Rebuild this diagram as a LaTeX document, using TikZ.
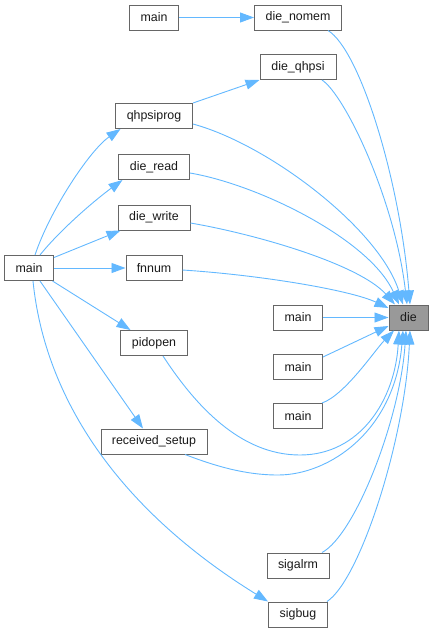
\documentclass[tikz,border=0pt]{standalone}
\usepackage{fontspec}
\setmainfont{Liberation Sans}
\usetikzlibrary{arrows.meta}
\definecolor{edgeblue}{HTML}{63B8FF}
\definecolor{boxline}{HTML}{666666}
\definecolor{diefill}{HTML}{999999}
\definecolor{txt}{HTML}{1A1A1A}
\begin{document}
\begin{tikzpicture}[x=1pt,y=-1pt,
  fn/.style={draw=boxline, line width=1pt, fill=white, minimum height=25pt,
    inner sep=0pt, font=\fontsize{12.4}{14}\selectfont, text=txt},
  edge/.style={draw=edgeblue, line width=0.9pt,
    -{Triangle[length=14pt,width=10pt,fill=edgeblue]}}]
\useasboundingbox (0,0) rectangle (433,633);

% nodes
\node[fn, minimum width=49pt] (maintop) at (154,17.5) {main};
\node[fn, minimum width=87pt] (dienomem) at (298,17.5) {die\_nomem};
\node[fn, minimum width=76pt] (dieqhpsi) at (298,67) {die\_qhpsi};
\node[fn, minimum width=77pt] (qhpsiprog) at (154,116) {qhpsiprog};
\node[fn, minimum width=71pt] (dieread) at (154,167) {die\_read};
\node[fn, minimum width=72pt] (diewrite) at (154,217.5) {die\_write};
\node[fn, minimum width=49pt] (mainL) at (29,268) {main};
\node[fn, minimum width=56pt] (fnnum) at (154,268) {fnnum};
\node[fn, minimum width=49pt] (mainA) at (298,317.5) {main};
\node[fn, minimum width=39pt, fill=diefill] (die) at (408.5,317.5) {die};
\node[fn, minimum width=67pt] (pidopen) at (154,343) {pidopen};
\node[fn, minimum width=49pt] (mainB) at (298,367) {main};
\node[fn, minimum width=49pt] (mainC) at (298,416) {main};
\node[fn, minimum width=106pt] (rsetup) at (154,441.5) {received\_setup};
\node[fn, minimum width=62pt] (sigalrm) at (298,565.5) {sigalrm};
\node[fn, minimum width=59pt] (sigbug) at (298,614.5) {sigbug};

% edges into die (top)
\draw[edge] ([xshift=30pt]dienomem.south) .. controls (360,50) and (400,180) .. ([xshift=1.5pt]die.north);
\draw[edge] ([xshift=24pt]dieqhpsi.south) .. controls (345,95) and (395,200) .. ([xshift=-1.5pt]die.north);
\draw[edge] ([yshift=-8pt]qhpsiprog.east) .. controls (270,145) and (380,230) .. ([xshift=-5.5pt]die.north);
\draw[edge] ([yshift=-6pt]dieread.east) .. controls (260,185) and (370,240) .. ([xshift=-9.5pt]die.north);
\draw[edge] ([yshift=-5.5pt]diewrite.east) .. controls (260,235) and (360,265) .. ([xshift=-13.5pt]die.north);
\draw[edge] ([yshift=-2pt]fnnum.east) .. controls (260,275) and (350,290) .. ([yshift=9.5pt]die.west);
% edges into die (left)
\draw[edge] (mainA) -- (die);
\draw[edge] ([yshift=10pt]mainB.east) -- ([yshift=-8.5pt]die.west);
\draw[edge] ([xshift=-1pt]mainC.north east) .. controls (345,395) and (375,350) .. ([xshift=-14.5pt]die.south);
% edges into die (bottom)
\draw[edge] ([xshift=9pt]pidopen.south) .. controls (195,405) and (240,455) .. (300,455)
  .. controls (360,455) and (395,400) .. ([xshift=-9.5pt]die.south);
\draw[edge] ([xshift=31pt]rsetup.south) .. controls (215,466) and (245,475) .. (278,475)
  .. controls (330,475) and (395,430) .. ([xshift=-5.5pt]die.south);
\draw[edge] ([xshift=24pt]sigalrm.north) .. controls (355,535) and (400,420) .. ([xshift=-2.5pt]die.south);
\draw[edge] ([xshift=29pt]sigbug.north) .. controls (360,580) and (405,440) .. ([xshift=1.5pt]die.south);

% other edges
\draw[edge] (maintop) -- (dienomem);
\draw[edge] (qhpsiprog.north east) -- (dieqhpsi.south west);
\draw[edge] ([xshift=6pt]mainL.north) .. controls (50,210) and (90,150) .. ([xshift=5.5pt]qhpsiprog.south west);
\draw[edge] ([xshift=11pt]mainL.north) .. controls (60,230) and (95,200) .. ([xshift=4.5pt]dieread.south west);
\draw[edge] ([yshift=-2.5pt]mainL.north east) -- ([xshift=3pt]diewrite.south west);
\draw[edge] (mainL) -- (fnnum);
\draw[edge] ([xshift=-1.5pt]mainL.south east) -- ([xshift=10.5pt]pidopen.north west);
\draw[edge] ([xshift=11pt]mainL.south) -- ([xshift=-11pt]rsetup.north);
\draw[edge] ([xshift=4pt]mainL.south) .. controls (45,400) and (120,510) .. (sigbug.north west);
\end{tikzpicture}
\end{document}
